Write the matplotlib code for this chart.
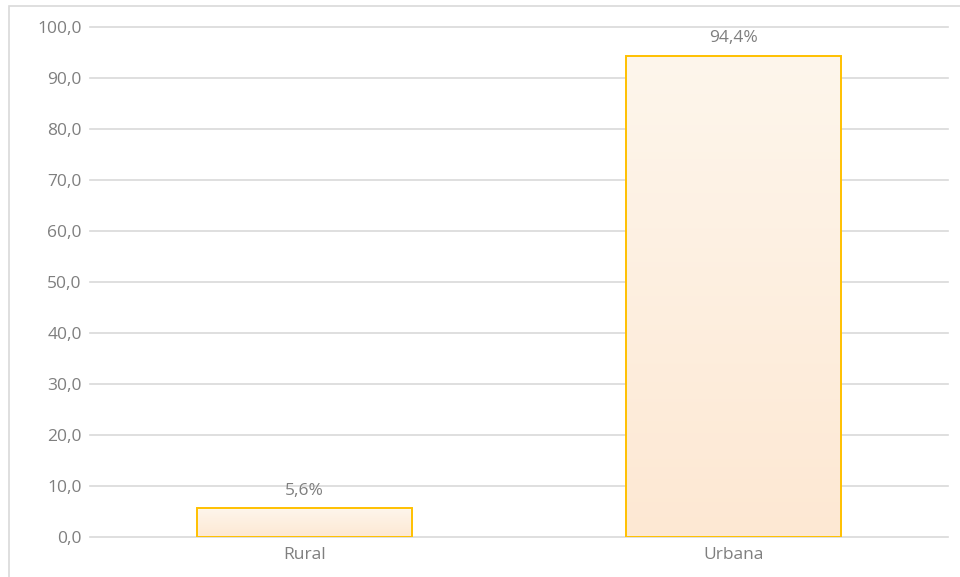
import matplotlib.pyplot as plt
import numpy as np
from matplotlib.patches import Rectangle
from matplotlib.colors import LinearSegmentedColormap

# datos
categorias = ['Rural', 'Urbana']
valores = [5.6, 94.4]
etiquetas = ['5,6%', '94,4%']
ticks_y = [0, 10, 20, 30, 40, 50, 60, 70, 80, 90, 100]

gris = '#7F7F7F'
plt.rcParams['font.family'] = ['Open Sans', 'DejaVu Sans']

fig = plt.figure(figsize=(9.6, 5.77), dpi=100)
ax = fig.add_axes([90 / 960, 1 - 537 / 577, 858 / 960, 510 / 577])

# marco exterior gris claro
fig.patches.append(Rectangle((9 / 960, -0.01), 1.0, 1 - 6 / 577 + 0.01,
                             transform=fig.transFigure, fill=False,
                             edgecolor='#D9D9D9', linewidth=1.2))

# degradado para las barras
cmap = LinearSegmentedColormap.from_list('deg', ['#FDE8D3', '#FEF6EC'])
grad = np.linspace(0, 1, 256).reshape(-1, 1)

x = np.arange(len(categorias))
barras = ax.bar(x, valores, width=0.5, color='none', edgecolor='#FFC000',
                linewidth=1.4, zorder=3)
for b in barras:
    img = ax.imshow(grad, cmap=cmap, aspect='auto', origin='lower',
                    extent=[b.get_x(), b.get_x() + b.get_width(), 0, b.get_height()],
                    zorder=2)
    img.set_clip_path(b)

for xi, v, t in zip(x, valores, etiquetas):
    ax.text(xi, v + 1.8, t, ha='center', va='bottom', fontsize=12.5, color=gris)

ax.set_xlim(-0.5, 1.5)
ax.set_ylim(0, 100)
ax.set_yticks(ticks_y)
ax.set_yticklabels([f'{t:.1f}'.replace('.', ',') for t in ticks_y])
ax.set_xticks(x)
ax.set_xticklabels(categorias)
ax.tick_params(axis='both', length=0, labelsize=12.5, labelcolor=gris)
ax.tick_params(axis='y', pad=6)
ax.tick_params(axis='x', pad=7)
ax.grid(axis='y', color='#D9D9D9', linewidth=1.2, zorder=0)
for gl in ax.get_ygridlines():
    gl.set_clip_on(False)
ax.set_axisbelow(True)
for s in ax.spines.values():
    s.set_visible(False)

fig.savefig('out.png', dpi=100)
